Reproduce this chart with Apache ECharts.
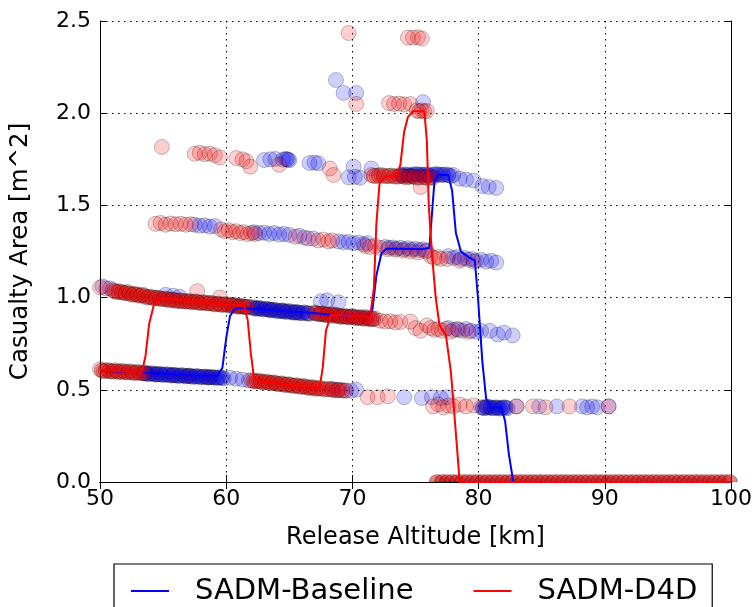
<!DOCTYPE html>
<html>
<head>
<meta charset="utf-8">
<script src="https://cdn.jsdelivr.net/npm/echarts@6/dist/echarts.min.js"></script>
<style>html,body{margin:0;padding:0;background:#fff;}#c{width:755px;height:607px;}</style>
</head>
<body>
<div id="c"></div>
<script>
// ---------- data ----------
const xTicks = [50, 60, 70, 80, 90, 100];
const yTicks = ['0.0', '0.5', '1.0', '1.5', '2.0', '2.5'];

// SADM-Baseline (blue) samples, by band
const blueBandA = [[53.5,0.59],[53.8,0.585],[54.1,0.59],[54.4,0.582],[54.7,0.587],[55.0,0.58],[55.3,0.585],[55.6,0.577],[55.9,0.582],[56.2,0.575],[56.5,0.58],[56.8,0.572],[57.1,0.577],[57.4,0.57],[57.7,0.575],[58.0,0.568],[58.3,0.572],[58.6,0.566],[58.9,0.57],[59.2,0.564],[59.5,0.568],[59.8,0.562],[60.3,0.565],[60.8,0.56],[61.3,0.555],[61.8,0.55],[68.4,0.505],[68.9,0.5],[69.4,0.497],[69.9,0.495],[70.3,0.50],[74.1,0.46],[75.5,0.455],[76.3,0.46],[77.0,0.455],[77.5,0.46]];
const blueBandADense = [[53.65,0.588],[53.95,0.587],[54.25,0.586],[54.55,0.584],[54.85,0.583],[55.15,0.582],[55.45,0.581],[55.75,0.58],[56.05,0.578],[56.35,0.577],[56.65,0.576],[56.95,0.575],[57.25,0.573],[57.55,0.572],[57.85,0.571],[58.15,0.57],[58.45,0.569],[58.75,0.568],[59.05,0.567],[59.35,0.566],[59.65,0.565]];
const blueBand04 = [[80.2,0.405],[80.5,0.40],[80.8,0.408],[81.1,0.40],[81.4,0.405],[81.7,0.398],[82.0,0.405],[82.3,0.40],[83.0,0.41],[84.8,0.41],[86.2,0.41],[88.2,0.41],[88.6,0.405],[89.0,0.41],[89.4,0.405],[90.3,0.41]];
const blueBand04Dense = [[80.35,0.402],[80.65,0.404],[80.95,0.403],[81.25,0.402],[81.55,0.401],[81.85,0.402],[82.15,0.403]];
const blueBandB = [[50.2,1.06],[50.8,1.05],[55.2,1.015],[55.8,1.01],[56.3,1.005],[60.5,0.96],[61.0,0.955],[61.5,0.95],[62.0,0.948],[62.3,0.94],[62.6,0.945],[62.9,0.935],[63.2,0.94],[63.5,0.93],[63.8,0.935],[64.1,0.925],[64.4,0.93],[64.7,0.922],[65.0,0.928],[65.3,0.918],[65.6,0.922],[65.9,0.915],[66.2,0.92],[66.6,0.912],[67.0,0.915],[67.5,0.91],[68.0,0.905],[68.5,0.91],[69.0,0.9],[69.5,0.898],[70.0,0.9],[70.5,0.892],[71.0,0.895],[71.5,0.888],[67.5,0.98],[68.0,0.985],[68.9,0.975],[77.6,0.835],[78.0,0.825],[78.3,0.83],[78.7,0.82],[79.0,0.83],[79.4,0.82],[79.8,0.815],[80.2,0.82],[80.9,0.82],[81.5,0.80],[82.0,0.81],[82.7,0.795]];
const blueBandBDense = [[62.15,0.944],[62.45,0.942],[62.75,0.94],[63.05,0.938],[63.35,0.935],[63.65,0.933],[63.95,0.93],[64.25,0.928],[64.55,0.926],[64.85,0.924],[65.15,0.922],[65.45,0.92],[65.75,0.918],[66.05,0.917],[66.4,0.915]];
const blueBandC = [[57.5,1.395],[57.9,1.39],[58.3,1.392],[58.7,1.385],[59.1,1.388],[62.2,1.355],[62.6,1.35],[63.0,1.352],[63.4,1.345],[63.8,1.35],[64.2,1.342],[64.6,1.345],[65.0,1.34],[65.8,1.335],[66.2,1.325],[66.9,1.32],[68.9,1.305],[69.3,1.30],[69.7,1.302],[70.1,1.295],[70.5,1.298],[70.9,1.29],[71.2,1.295],[72.6,1.275],[72.9,1.27],[73.2,1.272],[73.5,1.265],[73.8,1.27],[74.1,1.262],[74.4,1.268],[74.7,1.26],[75.0,1.265],[75.3,1.258],[75.6,1.262],[75.9,1.255],[77.6,1.225],[78.0,1.215],[78.3,1.22],[78.6,1.21],[78.9,1.215],[79.2,1.205],[79.5,1.21],[79.8,1.20],[80.2,1.205],[80.6,1.195],[81.0,1.20],[81.4,1.19]];
const blueBandD = [[63.0,1.746],[63.5,1.75],[63.9,1.752],[64.5,1.748],[64.7,1.752],[64.8,1.75],[64.9,1.748],[65.0,1.745],[66.6,1.73],[67.0,1.732],[67.3,1.728],[70.1,1.71],[69.7,1.652],[70.2,1.655],[70.6,1.65],[71.5,1.70],[73.8,1.665],[74.2,1.668],[74.6,1.662],[75.0,1.67],[75.4,1.665],[75.8,1.668],[76.2,1.662],[76.6,1.67],[77.0,1.665],[77.4,1.668],[77.8,1.66],[78.0,1.665],[78.5,1.645],[79.0,1.64],[79.6,1.635],[80.3,1.605],[80.8,1.60],[81.4,1.595]];
const blueBandDDense = [[74.0,1.665],[74.4,1.665],[74.8,1.666],[75.2,1.667],[75.6,1.666],[76.0,1.665],[76.4,1.666],[76.8,1.667],[77.2,1.666],[77.6,1.664]];
const blueBandE = [[68.7,2.18],[69.3,2.11],[70.3,2.11],[75.6,2.06]];

// SADM-D4D (red) samples, by band
const redBandA = [[50.0,0.612],[50.3,0.600],[50.6,0.608],[50.9,0.598],[51.2,0.606],[51.5,0.596],[51.8,0.603],[52.1,0.594],[52.4,0.601],[52.7,0.591],[53.0,0.598],[53.3,0.589],[53.6,0.594],[54.5,0.585],[55.8,0.578],[57.0,0.575],[58.6,0.568],[62.0,0.552],[62.3,0.545],[62.6,0.550],[62.9,0.540],[63.2,0.545],[63.5,0.535],[63.8,0.540],[64.1,0.530],[64.4,0.535],[64.7,0.525],[65.0,0.530],[65.3,0.520],[65.6,0.525],[65.9,0.515],[66.2,0.520],[66.5,0.510],[66.8,0.515],[67.1,0.505],[67.4,0.510],[67.8,0.502],[68.2,0.505],[68.6,0.498],[69.0,0.500],[69.5,0.495],[71.2,0.46],[72.0,0.46],[72.8,0.465]];
const redBandADense = [[50.15,0.605],[50.45,0.603],[50.75,0.602],[51.05,0.6],[51.35,0.6],[51.65,0.598],[51.95,0.597],[52.25,0.596],[52.55,0.595],[52.85,0.593],[53.15,0.592],[53.45,0.59],[62.15,0.548],[62.45,0.546],[62.75,0.544],[63.05,0.542],[63.35,0.54],[63.65,0.538],[63.95,0.535],[64.25,0.532],[64.55,0.53],[64.85,0.528],[65.15,0.525],[65.45,0.522],[65.75,0.52],[66.05,0.518],[66.35,0.515],[66.65,0.512],[66.95,0.51],[67.25,0.508],[67.6,0.506],[68.0,0.503],[68.4,0.5],[68.8,0.498],[69.2,0.496]];
const redBand04 = [[76.4,0.41],[76.8,0.42],[77.2,0.405],[77.6,0.415],[78.0,0.41],[78.5,0.42],[79.0,0.41],[79.6,0.415],[80.6,0.41],[83.0,0.41],[84.3,0.41],[85.3,0.405],[87.2,0.41],[90.3,0.41]];
const redBandB = [[50.0,1.055],[50.5,1.05],[51.0,1.04],[51.3,1.03],[51.6,1.035],[51.9,1.025],[52.2,1.03],[52.5,1.015],[52.8,1.02],[53.1,1.01],[53.4,1.015],[53.7,1.0],[54.0,1.005],[54.3,0.995],[54.6,1.0],[54.9,0.99],[55.2,0.995],[55.5,0.985],[55.8,0.99],[56.1,0.98],[56.4,0.985],[56.7,0.978],[57.0,0.982],[57.3,0.975],[57.6,0.98],[57.9,0.97],[58.2,0.975],[58.5,0.968],[58.8,0.972],[59.1,0.962],[59.4,0.968],[59.7,0.96],[60.0,0.965],[60.3,0.955],[60.6,0.96],[60.9,0.95],[61.2,0.955],[61.5,0.948],[61.8,0.95],[57.7,1.035],[59.5,1.0],[62.5,0.94],[63.5,0.935],[64.5,0.93],[65.5,0.92],[66.5,0.915],[67.0,0.92],[67.3,0.91],[67.6,0.915],[67.9,0.905],[68.2,0.91],[68.5,0.90],[68.8,0.905],[69.1,0.895],[69.4,0.90],[69.7,0.892],[70.0,0.898],[70.3,0.888],[70.6,0.894],[70.9,0.885],[71.2,0.89],[71.5,0.882],[71.8,0.886],[72.2,0.875],[72.6,0.87],[73.0,0.872],[73.4,0.865],[73.8,0.868],[74.6,0.87],[75.0,0.835],[75.4,0.82],[75.9,0.85],[76.2,0.835],[76.5,0.825],[76.8,0.83],[77.1,0.82],[77.4,0.83],[77.8,0.815],[78.4,0.825],[79.2,0.815]];
const redBandBDense = [[51.15,1.035],[51.45,1.032],[51.75,1.028],[52.05,1.025],[52.35,1.022],[52.65,1.018],[52.95,1.015],[53.25,1.012],[53.55,1.008],[53.85,1.003],[54.15,1.0],[54.45,0.998],[54.75,0.995],[55.05,0.993],[55.35,0.99],[55.65,0.988],[55.95,0.985],[56.25,0.983],[56.55,0.981],[56.85,0.98],[57.15,0.978],[57.45,0.977],[57.75,0.975],[58.05,0.973],[58.35,0.971],[58.65,0.97],[58.95,0.967],[59.25,0.965],[59.55,0.963],[59.85,0.962],[60.15,0.96],[60.45,0.958],[60.75,0.955],[61.05,0.953],[61.35,0.951],[61.65,0.949],[67.15,0.915],[67.45,0.912],[67.75,0.91],[68.05,0.908],[68.35,0.905],[68.65,0.903],[68.95,0.9],[69.25,0.898],[69.55,0.896],[69.85,0.895],[70.15,0.893],[70.45,0.891],[70.75,0.889],[71.05,0.887],[71.35,0.885],[71.65,0.884]];
const redBandC = [[54.4,1.40],[54.8,1.405],[55.2,1.395],[55.6,1.402],[56.0,1.398],[56.4,1.40],[56.8,1.395],[57.2,1.398],[59.6,1.37],[59.9,1.36],[60.2,1.365],[60.5,1.355],[60.8,1.36],[61.1,1.35],[61.4,1.355],[61.7,1.345],[62.0,1.35],[62.3,1.345],[65.5,1.33],[66.5,1.32],[67.3,1.31],[67.7,1.315],[68.1,1.305],[68.4,1.31],[71.0,1.28],[71.4,1.275],[71.8,1.28],[72.2,1.27],[72.8,1.262],[73.4,1.26],[74.0,1.255],[74.6,1.25],[75.2,1.245],[75.8,1.25],[76.2,1.225],[76.5,1.215],[76.8,1.22],[77.0,1.21],[77.5,1.21],[78.5,1.20],[79.6,1.195]];
const redBandD = [[54.9,1.817],[57.5,1.78],[57.9,1.785],[58.3,1.778],[58.7,1.78],[59.1,1.772],[59.5,1.76],[60.8,1.757],[61.3,1.75],[61.6,1.74],[61.9,1.71],[64.2,1.72],[68.2,1.70],[68.5,1.665],[71.5,1.665],[71.9,1.66],[72.3,1.665],[72.7,1.658],[73.1,1.662],[73.5,1.655],[73.9,1.66],[74.3,1.652],[74.7,1.658],[75.1,1.65],[75.4,1.60],[75.6,1.655],[76.0,1.648],[76.4,1.652]];
const redBandDDense = [[71.7,1.66],[72.1,1.662],[72.5,1.66],[72.9,1.66],[73.3,1.658],[73.7,1.658],[74.1,1.656],[74.5,1.655],[74.9,1.655],[75.3,1.652],[75.8,1.652],[76.2,1.65]];
const redBandE = [[70.3,2.05],[72.9,2.055],[73.3,2.05],[73.7,2.052],[74.1,2.048],[74.6,2.05],[75.1,2.015],[75.3,2.01],[75.5,2.015],[75.7,2.01],[75.9,2.012],[69.7,2.435],[74.4,2.41],[74.8,2.41],[75.2,2.412],[75.5,2.405]];
const redZeroX = [76.7,77.1,77.5,77.9,78.3,78.7,79.1,79.5,79.9,80.3,80.7,81.1,81.5,81.9,82.3,82.7,83.1,83.5,83.9,84.3,84.7,85.1,85.5,85.9,86.3,86.7,87.1,87.5,87.9,88.3,88.7,89.1,89.5,89.9,90.3,90.7,91.1,91.5,91.9,92.3,92.7,93.1,93.5,93.9,94.3,94.7,95.1,95.5,95.9,96.3,96.7,97.1,97.5,97.9,98.3,98.7,99.1,99.5,99.9];

// Fitted lines
const blueLine = [[50,0.605],[52,0.597],[54,0.59],[56,0.583],[58,0.578],[59.3,0.575],[59.7,0.62],[60.0,0.78],[60.3,0.9],[60.7,0.94],[61.2,0.945],[62,0.94],[64,0.93],[66,0.92],[68,0.91],[70,0.9],[71.3,0.895],[71.6,0.94],[71.9,1.12],[72.3,1.24],[72.7,1.265],[74,1.265],[75.5,1.262],[76.1,1.27],[76.3,1.45],[76.5,1.63],[76.8,1.665],[77.6,1.665],[77.9,1.58],[78.2,1.35],[78.6,1.25],[79.2,1.22],[79.7,1.2],[79.95,1.0],[80.3,0.65],[80.6,0.45],[81.0,0.41],[81.8,0.405],[82.1,0.33],[82.4,0.15],[82.75,0.0],[100,0]];
const redLine = [[50,0.607],[52,0.598],[53.3,0.592],[53.6,0.68],[53.9,0.86],[54.3,0.97],[54.8,0.995],[56,0.99],[58,0.975],[60,0.962],[61.4,0.955],[61.7,0.88],[61.95,0.7],[62.2,0.565],[62.6,0.545],[64,0.535],[66,0.52],[67.4,0.51],[67.65,0.62],[67.9,0.82],[68.3,0.905],[69,0.905],[70,0.9],[71.4,0.895],[71.7,1.05],[71.9,1.4],[72.15,1.62],[72.6,1.655],[73.5,1.66],[73.8,1.72],[74.1,1.9],[74.4,1.98],[74.8,2.01],[75.7,2.01],[75.9,1.85],[76.05,1.5],[76.3,1.24],[76.6,1.0],[76.9,0.85],[77.4,0.8],[77.8,0.6],[78.1,0.35],[78.5,0.0],[100,0]];

// ---------- chart ----------
const FONT = 'DejaVu Sans';
const blueSamples = [].concat(blueBandA, blueBand04, blueBandB, blueBandC, blueBandD, blueBandE);
const blueDense = [].concat(blueBandADense, blueBand04Dense, blueBandBDense, blueBandDDense);
const redSamples = [].concat(redBandA, redBand04, redBandB, redBandC, redBandD, redBandE);
const redDense = [].concat(redBandADense, redBandBDense, redBandDDense);
const redZero = redZeroX.map(x => [x, 0]);

const chart = echarts.init(document.getElementById('c'), null, {renderer: 'canvas'});
const dotStyle = (c, b) => ({color: c, borderColor: b || 'rgba(0,0,0,0.3)', borderWidth: 1});
const scatter = (name, data, fill, border) => ({name, type: 'scatter', data, symbol: 'circle', symbolSize: 15,
  itemStyle: dotStyle(fill, border), emphasis: {disabled: true}, z: 2});
const axisCommon = {
  axisLine: {show: true, lineStyle: {color: '#000', width: 1}},
  axisTick: {show: true, inside: true, length: 7, lineStyle: {color: '#000', width: 1}},
};
chart.setOption({
  animation: false,
  backgroundColor: '#fff',
  grid: {left: 97, right: 22, top: 21, bottom: 125, containLabel: false},
  legend: {
    data: ['SADM-Baseline', 'SADM-D4D'],
    icon: 'rect',
    left: 114, top: 564,
    orient: 'horizontal',
    padding: [12, 15, 12, 17],
    itemGap: 60, itemWidth: 38, itemHeight: 2,
    borderColor: '#000', borderWidth: 1.2, borderRadius: 0,
    textStyle: {fontFamily: FONT, fontSize: 29, color: '#000', padding: [0, 0, 0, 21], lineHeight: 30}
  },
  xAxis: [
    Object.assign({type: 'value', min: 50, max: 100, interval: 10,
      name: 'Release Altitude [km]', nameLocation: 'middle', nameGap: 44,
      nameTextStyle: {fontFamily: FONT, fontSize: 24, color: '#000'},
      axisLabel: {fontFamily: FONT, fontSize: 22, color: '#000', margin: 6,
        formatter: v => xTicks.indexOf(v) >= 0 ? String(v) : ''},
      splitLine: {show: true, lineStyle: {color: '#000', width: 1, type: [1.5, 4.5]}}
    }, axisCommon),
    Object.assign({type: 'value', min: 50, max: 100, interval: 10, position: 'top',
      axisLabel: {show: false}, splitLine: {show: false}}, axisCommon)
  ],
  yAxis: [
    Object.assign({type: 'value', min: 0, max: 2.5, interval: 0.5,
      name: 'Casualty Area [m^2]', nameLocation: 'middle', nameGap: 67,
      nameTextStyle: {fontFamily: FONT, fontSize: 24.5, color: '#000'},
      axisLabel: {fontFamily: FONT, fontSize: 22, color: '#000', margin: 9,
        formatter: v => yTicks[Math.round(v / 0.5)]},
      splitLine: {show: true, lineStyle: {color: '#000', width: 1, type: [1.5, 4.5]}}
    }, axisCommon),
    Object.assign({type: 'value', min: 0, max: 2.5, interval: 0.5, position: 'right',
      axisLabel: {show: false}, splitLine: {show: false}}, axisCommon)
  ],
  series: [
    scatter('Baseline samples', blueSamples, 'rgba(0,0,255,0.24)'),
    scatter('D4D samples', redSamples, 'rgba(255,0,0,0.24)'),
    scatter('Baseline dense', blueDense, 'rgba(0,0,230,0.4)', 'rgba(0,0,0,0.35)'),
    scatter('D4D dense', redDense, 'rgba(230,0,0,0.4)', 'rgba(0,0,0,0.35)'),
    {name: 'D4D samples zero', type: 'scatter', data: redZero,
      symbol: 'path://M0,10 A10,10 0 0 1 20,10 Z', symbolSize: [15, 7.5], symbolOffset: [0, -3.75],
      itemStyle: {color: 'rgba(215,0,0,0.6)', borderColor: 'rgba(0,0,0,0.4)', borderWidth: 1},
      emphasis: {disabled: true}, z: 2},
    {name: 'SADM-Baseline', type: 'line', data: blueLine, symbol: 'none', smooth: false,
      lineStyle: {color: '#0000ff', width: 2}, itemStyle: {color: '#0000ff'}, z: 3},
    {name: 'SADM-D4D', type: 'line', data: redLine, symbol: 'none', smooth: false,
      lineStyle: {color: '#ff0000', width: 2}, itemStyle: {color: '#ff0000'}, z: 3}
  ]
});
</script>
</body>
</html>
